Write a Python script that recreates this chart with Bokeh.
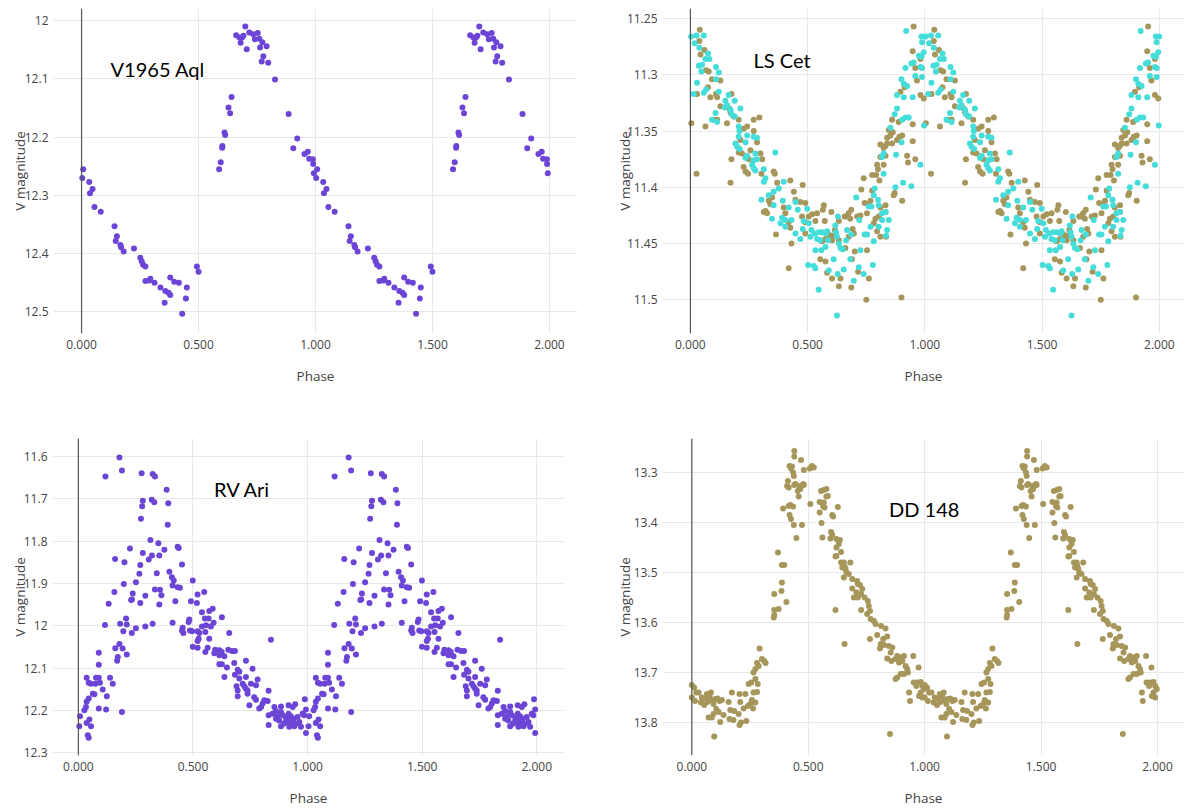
from bokeh.plotting import figure
from bokeh.models import Range1d, Span, Label, FixedTicker, PrintfTickFormatter, CustomJSTickFormatter, ColumnDataSource
from bokeh.layouts import column, row
from bokeh.embed import file_html
from bokeh.resources import INLINE

# ---------------- data (one cycle each; plotted at phase and phase+1) ----------------
v1965_phase = [0.003, 0.007, 0.033, 0.036, 0.047, 0.055, 0.082, 0.141, 0.146, 0.151, 0.166, 0.169, 0.180, 0.224,
               0.251, 0.257, 0.263, 0.273, 0.273, 0.290, 0.294, 0.312, 0.337, 0.355, 0.358, 0.372, 0.379, 0.379,
               0.396, 0.416, 0.430, 0.446, 0.450, 0.493, 0.500, 0.588, 0.595, 0.601, 0.602, 0.611, 0.614, 0.628,
               0.635, 0.641, 0.661, 0.675, 0.680, 0.686, 0.692, 0.700, 0.706, 0.717, 0.734, 0.741, 0.753, 0.760,
               0.763, 0.770, 0.773, 0.777, 0.791, 0.798, 0.827, 0.885, 0.905, 0.922, 0.953, 0.967, 0.973, 0.989,
               0.990, 0.993]
v1965_mag = [12.270, 12.255, 12.277, 12.296, 12.289, 12.320, 12.328, 12.353, 12.378, 12.370, 12.385, 12.389, 12.396,
             12.391, 12.407, 12.413, 12.419, 12.422, 12.447, 12.446, 12.443, 12.450, 12.458, 12.484, 12.464, 12.467,
             12.471, 12.441, 12.448, 12.450, 12.503, 12.477, 12.458, 12.422, 12.431, 12.255, 12.243, 12.218, 12.215,
             12.192, 12.196, 12.149, 12.159, 12.131, 12.025, 12.029, 12.038, 12.029, 12.026, 12.010, 12.049, 12.020,
             12.023, 12.032, 12.021, 12.031, 12.046, 12.070, 12.037, 12.061, 12.044, 12.072, 12.101, 12.160, 12.219,
             12.202, 12.229, 12.225, 12.237, 12.238, 12.246, 12.262]

lscet_cyan_phase = [0.003, 0.026, 0.057, 0.018, 0.038, 0.075, 0.064, 0.081, 0.036, 0.050, 0.047, 0.109, 0.121, 0.109,
                    0.028, 0.067, 0.014, 0.057, 0.121, 0.149, 0.163, 0.189, 0.156, 0.146, 0.171, 0.175, 0.107, 0.189,
                    0.213, 0.092, 0.114, 0.206, 0.209, 0.206, 0.242, 0.270, 0.284, 0.192, 0.235, 0.199, 0.362, 0.210,
                    0.242, 0.277, 0.235, 0.270, 0.284, 0.263, 0.270, 0.277, 0.313, 0.320, 0.313, 0.398, 0.377, 0.355,
                    0.334, 0.303, 0.394, 0.355, 0.419, 0.448, 0.458, 0.498, 0.348, 0.391, 0.405, 0.431, 0.384, 0.405,
                    0.483, 0.505, 0.479, 0.448, 0.469, 0.502,
                    0.920, 0.985, 0.999, 0.988, 0.995, 0.974, 0.985, 0.917, 0.942, 0.952, 0.981, 0.988, 0.959, 0.988,
                    0.900, 0.910, 0.924, 0.881, 0.910, 0.948, 0.881, 0.871, 0.903, 0.917, 0.931, 0.997, 0.853, 0.900,
                    0.817, 0.824, 0.877, 0.981, 0.824, 0.874, 0.907, 0.942, 0.786, 0.782, 0.707, 0.800, 0.803, 0.832,
                    0.817, 0.761, 0.772, 0.720, 0.629, 0.817, 0.846, 0.768, 0.803, 0.839, 0.834, 0.782, 0.743, 0.753,
                    0.668, 0.686, 0.664, 0.618, 0.621, 0.625, 0.633, 0.640, 0.650, 0.583, 0.578, 0.562, 0.547, 0.530,
                    0.516, 0.512, 0.540, 0.554, 0.587, 0.558, 0.533, 0.576, 0.725, 0.682, 0.718, 0.611, 0.526, 0.533,
                    0.590, 0.628, 0.654, 0.697, 0.739, 0.778, 0.547, 0.625]
lscet_cyan_mag = [11.266, 11.265, 11.265, 11.272, 11.276, 11.281, 11.286, 11.286, 11.292, 11.291, 11.297, 11.293,
                  11.298, 11.304, 11.307, 11.313, 11.317, 11.316, 11.315, 11.323, 11.318, 11.323, 11.327, 11.329,
                  11.331, 11.335, 11.334, 11.337, 11.330, 11.340, 11.342, 11.346, 11.350, 11.355, 11.354, 11.355,
                  11.356, 11.361, 11.360, 11.364, 11.369, 11.366, 11.372, 11.370, 11.374, 11.376, 11.375, 11.380,
                  11.383, 11.385, 11.384, 11.392, 11.395, 11.395, 11.401, 11.404, 11.407, 11.411, 11.412, 11.416,
                  11.418, 11.413, 11.420, 11.419, 11.428, 11.427, 11.429, 11.429, 11.432, 11.435, 11.430, 11.432,
                  11.437, 11.441, 11.446, 11.469,
                  11.261, 11.266, 11.266, 11.271, 11.280, 11.283, 11.284, 11.294, 11.290, 11.289, 11.293, 11.294,
                  11.301, 11.302, 11.304, 11.308, 11.310, 11.318, 11.320, 11.320, 11.330, 11.335, 11.340, 11.338,
                  11.338, 11.345, 11.347, 11.360, 11.373, 11.370, 11.371, 11.380, 11.388, 11.400, 11.396, 11.399,
                  11.401, 11.407, 11.409, 11.411, 11.416, 11.422, 11.423, 11.417, 11.417, 11.429, 11.426, 11.429,
                  11.429, 11.435, 11.435, 11.438, 11.443, 11.448, 11.442, 11.442, 11.438, 11.442, 11.447, 11.434,
                  11.440, 11.444, 11.450, 11.454, 11.455, 11.439, 11.441, 11.440, 11.440, 11.441, 11.438, 11.444,
                  11.446, 11.447, 11.447, 11.456, 11.456, 11.453, 11.456, 11.464, 11.471, 11.464, 11.470, 11.472,
                  11.474, 11.477, 11.473, 11.483, 11.477, 11.469, 11.491, 11.514]

lscet_olive_phase = [0.040, 0.038, 0.060, 0.043, 0.067, 0.078, 0.092, 0.128, 0.075, 0.028, 0.109, 0.085, 0.114,
                     0.175, 0.128, 0.166, 0.171, 0.185, 0.100, 0.114, 0.206, 0.270, 0.294, 0.004, 0.156, 0.064,
                     0.227, 0.242, 0.270, 0.213, 0.284, 0.206, 0.220, 0.256, 0.299, 0.249, 0.306, 0.175, 0.227,
                     0.235, 0.246, 0.026, 0.303, 0.355, 0.360, 0.171, 0.370, 0.426, 0.479, 0.441, 0.348, 0.334,
                     0.448, 0.469, 0.341, 0.398, 0.490, 0.320, 0.313, 0.327, 0.405, 0.476, 0.419, 0.490, 0.505,
                     0.426, 0.490, 0.365, 0.431, 0.419,
                     0.952, 0.948, 0.981, 0.959, 0.966, 0.914, 0.896, 0.981, 0.995, 0.860, 0.888, 0.948, 0.846,
                     0.863, 0.853, 0.839, 0.903, 0.891, 0.881, 0.948, 0.860, 0.810, 0.832, 0.839, 0.824, 0.832,
                     0.810, 0.924, 0.959, 0.928, 0.796, 0.824, 0.800, 0.792, 0.775, 0.806, 0.739, 0.871, 0.867,
                     0.903, 0.775, 0.729, 0.768, 0.743, 0.761, 0.832, 0.810, 0.832, 0.753, 0.686, 0.675, 0.711,
                     0.725, 0.664, 0.658, 0.601, 0.569, 0.565, 0.540, 0.519, 0.533, 0.573, 0.633, 0.682, 0.789,
                     0.803, 0.782, 0.796, 0.810, 0.834, 0.692, 0.697, 0.675, 0.633, 0.616, 0.590, 0.597, 0.607,
                     0.562, 0.576, 0.604, 0.661, 0.701, 0.753, 0.689, 0.554, 0.576, 0.583, 0.604, 0.640, 0.715,
                     0.761, 0.633, 0.686, 0.750, 0.900]
lscet_olive_mag = [11.260, 11.270, 11.278, 11.282, 11.296, 11.297, 11.304, 11.305, 11.311, 11.317, 11.317, 11.320,
                   11.320, 11.317, 11.328, 11.330, 11.333, 11.337, 11.340, 11.340, 11.340, 11.340, 11.338, 11.343,
                   11.343, 11.346, 11.348, 11.346, 11.350, 11.358, 11.360, 11.369, 11.370, 11.367, 11.370, 11.375,
                   11.375, 11.375, 11.382, 11.386, 11.388, 11.388, 11.388, 11.386, 11.388, 11.396, 11.396, 11.394,
                   11.398, 11.404, 11.409, 11.412, 11.411, 11.413, 11.415, 11.418, 11.414, 11.421, 11.422, 11.423,
                   11.423, 11.426, 11.431, 11.431, 11.426, 11.436, 11.441, 11.442, 11.450, 11.472,
                   11.257, 11.279, 11.286, 11.294, 11.305, 11.311, 11.315, 11.318, 11.321, 11.340, 11.342, 11.344,
                   11.349, 11.351, 11.354, 11.356, 11.354, 11.355, 11.358, 11.359, 11.361, 11.362, 11.363, 11.361,
                   11.365, 11.372, 11.373, 11.372, 11.375, 11.378, 11.380, 11.380, 11.384, 11.389, 11.389, 11.394,
                   11.392, 11.405, 11.407, 11.412, 11.403, 11.402, 11.412, 11.414, 11.415, 11.416, 11.418, 11.422,
                   11.423, 11.420, 11.423, 11.426, 11.425, 11.426, 11.426, 11.422, 11.416, 11.420, 11.423, 11.424,
                   11.430, 11.430, 11.430, 11.428, 11.428, 11.426, 11.432, 11.439, 11.444, 11.444, 11.437, 11.441,
                   11.444, 11.447, 11.438, 11.442, 11.444, 11.443, 11.448, 11.446, 11.447, 11.454, 11.457, 11.456,
                   11.464, 11.464, 11.466, 11.476, 11.481, 11.481, 11.475, 11.481, 11.488, 11.489, 11.500, 11.498]

rvari_phase = [0.179, 0.190, 0.118, 0.276, 0.324, 0.334, 0.385, 0.281, 0.320, 0.331, 0.278, 0.392, 0.273, 0.390,
               0.314, 0.349, 0.225, 0.375, 0.433, 0.438, 0.281, 0.321, 0.307, 0.353, 0.160, 0.201, 0.270, 0.452,
               0.397, 0.266, 0.342, 0.408, 0.416, 0.251, 0.198, 0.411, 0.433, 0.443, 0.499, 0.157, 0.237, 0.334,
               0.356, 0.292, 0.362, 0.234, 0.230, 0.423, 0.491, 0.517, 0.549, 0.520, 0.132, 0.270, 0.353, 0.539,
               0.571, 0.586, 0.552, 0.568, 0.626, 0.484, 0.481, 0.411, 0.324, 0.292, 0.251, 0.211, 0.182, 0.208,
               0.116, 0.196, 0.233, 0.455, 0.452, 0.458, 0.487, 0.496, 0.520, 0.528, 0.539, 0.557, 0.578, 0.590,
               0.554, 0.525, 0.520, 0.571, 0.658, 0.499, 0.520, 0.564, 0.554, 0.597, 0.615, 0.625, 0.593, 0.654,
               0.670, 0.683, 0.179, 0.161, 0.193, 0.172, 0.169, 0.211, 0.089, 0.089, 0.615, 0.637, 0.615, 0.626,
               0.648, 0.680, 0.731, 0.760, 0.695, 0.702, 0.683, 0.637, 0.702, 0.731, 0.782, 0.036, 0.045, 0.055,
               0.077, 0.089, 0.074, 0.094, 0.138, 0.150, 0.106, 0.063, 0.070, 0.045, 0.036, 0.026, 0.033, 0.124,
               0.089, 0.121, 0.190, 0.690, 0.695, 0.717, 0.724, 0.731, 0.738, 0.753, 0.775, 0.738, 0.695, 0.767,
               0.775, 0.746, 0.830, 0.826, 0.811, 0.804, 0.797, 0.789, 0.855, 0.862, 0.884, 0.917, 0.935, 0.946,
               0.988, 0.993, 0.840, 0.830, 0.847, 0.884, 0.891, 0.906, 0.917, 0.927, 0.938, 0.920, 0.906, 0.898,
               0.884, 0.920, 0.949, 0.964, 0.978, 0.985, 0.993, 0.830, 0.007, 0.004, 0.036, 0.048, 0.055, 0.041,
               0.045, 0.869, 0.876, 0.913, 0.935, 0.942, 0.971, 0.956, 0.862]
rvari_mag = [11.602, 11.633, 11.647, 11.639, 11.641, 11.647, 11.678, 11.704, 11.702, 11.708, 11.717, 11.710, 11.747,
             11.761, 11.797, 11.805, 11.817, 11.820, 11.813, 11.816, 11.828, 11.834, 11.843, 11.834, 11.842, 11.850,
             11.856, 11.855, 11.872, 11.877, 11.876, 11.885, 11.893, 11.897, 11.901, 11.905, 11.909, 11.910, 11.893,
             11.920, 11.924, 11.914, 11.915, 11.929, 11.928, 11.938, 11.939, 11.942, 11.942, 11.946, 11.920, 11.926,
             11.948, 11.946, 11.950, 11.968, 11.965, 11.960, 11.983, 11.983, 11.980, 11.985, 11.991, 11.993, 11.995,
             12.002, 12.006, 11.997, 11.995, 11.983, 11.998, 12.013, 12.017, 12.005, 12.011, 12.017, 12.011, 12.013,
             12.013, 12.017, 12.002, 11.999, 12.002, 11.993, 12.015, 12.031, 12.036, 12.031, 12.017, 12.050, 12.052,
             12.052, 12.062, 12.057, 12.058, 12.062, 12.065, 12.057, 12.060, 12.060, 12.043, 12.053, 12.054, 12.074,
             12.083, 12.068, 12.064, 12.092, 12.070, 12.072, 12.091, 12.091, 12.099, 12.088, 12.083, 12.102, 12.104,
             12.109, 12.116, 12.121, 12.125, 12.121, 12.127, 12.123, 12.135, 12.137, 12.123, 12.123, 12.137, 12.135,
             12.123, 12.137, 12.151, 12.161, 12.162, 12.172, 12.180, 12.200, 12.192, 12.167, 12.196, 12.198, 12.204,
             12.143, 12.153, 12.137, 12.143, 12.149, 12.153, 12.137, 12.141, 12.161, 12.167, 12.169, 12.175, 12.188,
             12.154, 12.178, 12.176, 12.184, 12.192, 12.196, 12.192, 12.202, 12.191, 12.188, 12.192, 12.186, 12.174,
             12.198, 12.033, 12.212, 12.208, 12.204, 12.212, 12.216, 12.208, 12.214, 12.220, 12.228, 12.224, 12.231,
             12.238, 12.239, 12.231, 12.228, 12.208, 12.212, 12.254, 12.235, 12.214, 12.238, 12.230, 12.222, 12.238,
             12.259, 12.265, 12.214, 12.224, 12.220, 12.228, 12.238, 12.239, 12.216, 12.220]

dd148_phase = [0.000, 0.010, 0.019, 0.000, 0.014, 0.029, 0.043, 0.039, 0.057, 0.053, 0.065, 0.076, 0.082, 0.067,
               0.086, 0.093, 0.100, 0.110, 0.119, 0.129, 0.105, 0.115, 0.093, 0.072, 0.086, 0.122, 0.096, 0.136,
               0.158, 0.172, 0.165, 0.162, 0.179, 0.182, 0.201, 0.205, 0.211, 0.222, 0.208, 0.205, 0.230, 0.234,
               0.240, 0.251, 0.258, 0.263, 0.265, 0.273, 0.280, 0.244, 0.255, 0.273, 0.283, 0.265, 0.273, 0.280,
               0.287, 0.291, 0.301, 0.311, 0.317, 0.352, 0.354, 0.354, 0.373, 0.354, 0.385, 0.387, 0.406, 0.370,
               0.387, 0.397, 0.392, 0.413, 0.409, 0.416, 0.420, 0.430, 0.440, 0.440, 0.426, 0.435, 0.438, 0.440,
               0.445, 0.455, 0.463, 0.466, 0.481, 0.478, 0.416, 0.423, 0.435, 0.420, 0.426, 0.438, 0.449, 0.459,
               0.473, 0.469, 0.481, 0.506, 0.516, 0.524, 0.509, 0.555, 0.567, 0.578, 0.578, 0.584, 0.549, 0.567,
               0.564, 0.570, 0.549, 0.627, 0.603, 0.607, 0.557, 0.561, 0.598, 0.603, 0.595, 0.621, 0.636, 0.631,
               0.621, 0.641, 0.621, 0.617, 0.641, 0.653, 0.656, 0.646, 0.660, 0.681, 0.664, 0.674, 0.653, 0.689,
               0.689, 0.710, 0.713, 0.722, 0.707, 0.696, 0.713, 0.732, 0.727, 0.742, 0.756, 0.760, 0.765, 0.753,
               0.768, 0.782, 0.789, 0.727, 0.617, 0.656, 0.796, 0.765, 0.813, 0.832, 0.839, 0.822, 0.811, 0.808,
               0.825, 0.846, 0.861, 0.854, 0.839, 0.857, 0.875, 0.882, 0.890, 0.897, 0.911, 0.904, 0.918, 0.925,
               0.928, 0.911, 0.897, 0.882, 0.875, 0.951, 0.851, 0.933, 0.937, 0.968, 0.983, 0.990, 0.997, 0.976,
               0.983, 0.990, 0.974, 0.953, 0.964]
dd148_mag = [13.725, 13.730, 13.740, 13.750, 13.757, 13.740, 13.750, 13.760, 13.752, 13.765, 13.743, 13.748, 13.740,
             13.759, 13.755, 13.763, 13.753, 13.752, 13.757, 13.755, 13.773, 13.779, 13.783, 13.790, 13.790, 13.799,
             13.828, 13.785, 13.759, 13.740, 13.775, 13.793, 13.795, 13.777, 13.783, 13.805, 13.800, 13.772, 13.759,
             13.743, 13.743, 13.797, 13.767, 13.763, 13.755, 13.772, 13.740, 13.760, 13.739, 13.723, 13.720, 13.713,
             13.723, 13.700, 13.693, 13.681, 13.687, 13.652, 13.673, 13.677, 13.681, 13.590, 13.585, 13.575, 13.573,
             13.543, 13.537, 13.520, 13.559, 13.460, 13.485, 13.485, 13.372, 13.317, 13.327, 13.330, 13.287, 13.288,
             13.257, 13.268, 13.292, 13.300, 13.307, 13.325, 13.323, 13.337, 13.327, 13.333, 13.325, 13.323, 13.367,
             13.365, 13.368, 13.385, 13.393, 13.405, 13.431, 13.348, 13.405, 13.275, 13.295, 13.292, 13.287, 13.290,
             13.363, 13.337, 13.335, 13.333, 13.348, 13.347, 13.359, 13.360, 13.367, 13.370, 13.380, 13.369, 13.385,
             13.388, 13.401, 13.430, 13.419, 13.425, 13.432, 13.433, 13.435, 13.443, 13.450, 13.459, 13.467, 13.468,
             13.480, 13.480, 13.487, 13.490, 13.493, 13.480, 13.500, 13.503, 13.510, 13.513, 13.532, 13.517, 13.523,
             13.525, 13.540, 13.550, 13.550, 13.533, 13.543, 13.550, 13.557, 13.567, 13.577, 13.583, 13.593, 13.597,
             13.603, 13.575, 13.575, 13.643, 13.625, 13.633, 13.607, 13.612, 13.628, 13.633, 13.643, 13.652, 13.645,
             13.647, 13.650, 13.660, 13.672, 13.677, 13.673, 13.667, 13.680, 13.670, 13.667, 13.677, 13.687, 13.693,
             13.700, 13.703, 13.703, 13.710, 13.713, 13.667, 13.823, 13.740, 13.757, 13.720, 13.719, 13.727, 13.733,
             13.747, 13.740, 13.750, 13.690, 13.720, 13.727]

x_ticks = [0, 0.5, 1.0, 1.5, 2.0]
y_ticks_v1965 = [12.0, 12.1, 12.2, 12.3, 12.4, 12.5]
y_ticks_lscet = [11.25, 11.3, 11.35, 11.4, 11.45, 11.5]
y_ticks_rvari = [11.6, 11.7, 11.8, 11.9, 12.0, 12.1, 12.2, 12.3]
y_ticks_dd148 = [13.3, 13.4, 13.5, 13.6, 13.7, 13.8]

PURPLE = "#6c45d6"
CYAN = "#45ddd9"
OLIVE = "#a6965a"
FONT = "Open Sans"


def two_cycles(ph, mg):
    return ph + [p + 1.0 for p in ph], mg + mg


def panel(width, height, xr, yr, yticks, left, right, top, bottom, ylab_standoff):
    p = figure(width=width, height=height, output_backend="svg", toolbar_location=None,
               x_range=Range1d(*xr), y_range=Range1d(*yr),
               min_border_left=left, min_border_right=right, min_border_top=top, min_border_bottom=bottom)
    p.outline_line_color = None
    p.background_fill_color = "white"
    p.border_fill_color = "white"
    p.xaxis.ticker = FixedTicker(ticks=x_ticks)
    p.xaxis.formatter = PrintfTickFormatter(format="%.3f")
    p.yaxis.ticker = FixedTicker(ticks=yticks)
    p.yaxis.formatter = CustomJSTickFormatter(code="return (Math.round(tick*1000)/1000).toString();")
    for ax in (p.xaxis[0], p.yaxis[0]):
        ax.axis_line_color = None
        ax.major_tick_line_color = None
        ax.minor_tick_line_color = None
        ax.major_tick_out = 0
        ax.major_tick_in = 0
        ax.major_label_text_font = FONT
        ax.major_label_text_font_size = "12px"
        ax.major_label_text_color = "#444444"
        ax.axis_label_text_font = FONT
        ax.axis_label_text_font_size = "13.5px"
        ax.axis_label_text_font_style = "normal"
        ax.axis_label_text_color = "#444444"
    p.xaxis.axis_label = "Phase"
    p.yaxis.axis_label = "V magnitude"
    p.xaxis.major_label_standoff = 6
    p.xaxis.axis_label_standoff = 15
    p.yaxis.major_label_standoff = 5
    p.yaxis.axis_label_standoff = ylab_standoff
    p.xgrid.grid_line_color = "#e8e8e8"
    p.ygrid.grid_line_color = "#e8e8e8"
    p.add_layout(Span(location=0, dimension="height", line_color="#555555", line_width=1.2))
    return p


def add_points(p, ph, mg, color):
    x, y = two_cycles(ph, mg)
    src = ColumnDataSource(dict(phase=x, mag=y))
    p.scatter("phase", "mag", source=src, size=6, fill_color=color, line_color=None)


def add_name(p, text, x, y):
    p.add_layout(Label(x=x, y=y, text=text, text_font="Lato", text_font_size="20px",
                       text_color="black", text_align="left", text_baseline="alphabetic"))


p1 = panel(590, 420, (-0.120, 2.120), (12.537, 11.979), y_ticks_v1965, 53, 13, 8, 87, -7)
add_points(p1, v1965_phase, v1965_mag, PURPLE)
add_name(p1, "V1965 Aql", 0.124, 12.083)

p2 = panel(594, 420, (-0.119, 2.107), (11.530, 11.241), y_ticks_lscet, 72, 0, 8, 87, -10)
add_points(p2, lscet_olive_phase, lscet_olive_mag, OLIVE)
add_points(p2, lscet_cyan_phase, lscet_cyan_mag, CYAN)
add_name(p2, "LS Cet", 0.269, 11.287)

p3 = panel(590, 390, (-0.113, 2.121), (12.307, 11.557), y_ticks_rvari, 52, 26, 18, 55, -8)
add_points(p3, rvari_phase, rvari_mag, PURPLE)
add_name(p3, "RV Ari", 0.592, 11.676)

p4 = panel(594, 390, (-0.126, 2.116), (13.866, 13.232), y_ticks_dd148, 72, 0, 18, 55, -3)
add_points(p4, dd148_phase, dd148_mag, OLIVE)
add_name(p4, "DD 148", 0.847, 13.373)

layout = column(row(p1, p2), row(p3, p4))
open("out.html", "w").write(file_html(layout, INLINE))
